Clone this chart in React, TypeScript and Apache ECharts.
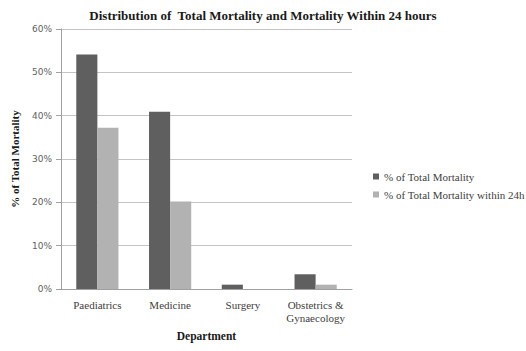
import React, { useEffect, useRef } from "react";
import * as echarts from "echarts";

const categories = ["Paediatrics", "Medicine", "Surgery", "Obstetrics &\nGynaecology"];
const totalMortality = [54.1, 40.9, 1.0, 3.4];
const mortality24h = [37.2, 20.2, 0, 1.0];
const seriesNames = ["% of Total Mortality", "% of Total Mortality within 24h"];

const serif = "'Liberation Serif', 'DejaVu Serif', serif";

export default function App() {
  const ref = useRef<HTMLDivElement>(null);
  useEffect(() => {
    if (!ref.current) return;
    const chart = echarts.init(ref.current, undefined, { renderer: "svg" });
    chart.setOption({
      animation: false,
      backgroundColor: "#ffffff",
      title: {
        text: "Distribution of  Total Mortality and Mortality Within 24 hours",
        left: "center",
        top: 4,
        textStyle: { fontFamily: serif, fontWeight: "bold", fontSize: 13, color: "#1a1a1a" },
      },
      legend: {
        orient: "vertical",
        left: 368,
        top: 166,
        itemWidth: 6,
        itemHeight: 6,
        itemGap: 7,
        icon: "rect",
        textStyle: { fontFamily: serif, fontSize: 11, color: "#404040" },
        data: seriesNames,
      },
      grid: { left: 61, right: 174, top: 29, bottom: 62, containLabel: false },
      xAxis: {
        type: "category",
        data: categories,
        name: "Department",
        nameLocation: "middle",
        nameGap: 41,
        nameTextStyle: { fontFamily: serif, fontWeight: "bold", fontSize: 11.5, color: "#1a1a1a" },
        axisLine: { lineStyle: { color: "#a0a0a0" } },
        axisTick: { show: false },
        axisLabel: { interval: 0, hideOverlap: false, fontFamily: serif, fontSize: 11, color: "#404040", margin: 9, lineHeight: 13 },
      },
      yAxis: {
        type: "value",
        min: 0,
        max: 60,
        interval: 10,
        name: "% of Total Mortality",
        nameLocation: "middle",
        nameGap: 41,
        nameRotate: 90,
        nameTextStyle: { fontFamily: serif, fontWeight: "bold", fontSize: 11, color: "#1a1a1a" },
        axisLine: { show: true, lineStyle: { color: "#a0a0a0" } },
        axisTick: { show: true, length: 5, inside: false, lineStyle: { color: "#a0a0a0" } },
        axisLabel: { formatter: "{value}%", fontFamily: "'DejaVu Sans', sans-serif", fontSize: 9, color: "#606060", margin: 9 },
        splitLine: { lineStyle: { color: "#c4c4c4" } },
      },
      series: [
        {
          name: seriesNames[0],
          type: "bar",
          data: totalMortality,
          barGap: "0%",
          barCategoryGap: "42%",
          itemStyle: { color: "#5f5f5f" },
        },
        {
          name: seriesNames[1],
          type: "bar",
          data: mortality24h,
          barGap: "0%",
          barCategoryGap: "42%",
          itemStyle: { color: "#b2b2b2" },
        },
      ],
    });
    return () => chart.dispose();
  }, []);
  return <div ref={ref} style={{ width: 526, height: 351, position: "absolute", left: 0, top: 0 }} />;
}
